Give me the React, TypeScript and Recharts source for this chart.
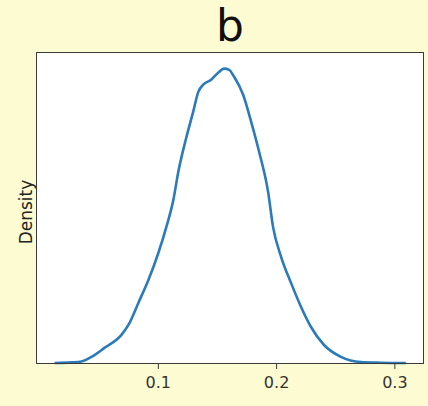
// 核密度曲线 "b"
import { LineChart, Line, XAxis, YAxis, CartesianGrid } from "recharts";

const xs = [
  0.0122, 0.0266, 0.035, 0.0435, 0.0544, 0.0688, 0.0747, 0.0831, 0.0916, 0.1,
  0.1068, 0.1127, 0.1169, 0.1236, 0.1295, 0.1338, 0.138, 0.1447, 0.1506, 0.1557,
  0.1599, 0.1641, 0.1717, 0.1785, 0.1852, 0.1928, 0.197, 0.2038, 0.2122, 0.2207,
  0.2291, 0.2401, 0.2544, 0.2713, 0.2882, 0.3093,
];
const density = [
  0.0, 0.02, 0.05, 0.21, 0.52, 0.97, 1.31, 2.07, 2.86, 3.79,
  4.69, 5.62, 6.59, 7.76, 8.66, 9.34, 9.59, 9.76, 10.0, 10.14,
  10.1, 9.86, 9.24, 8.31, 7.28, 5.9, 4.69, 3.66, 2.76, 1.93,
  1.24, 0.62, 0.21, 0.03, 0.01, 0.0,
];
const xTicks = [0.1, 0.2, 0.3];
const title = "b";
const yLabel = "Density";

const data = xs.map((x, i) => ({ x, y: density[i] }));

const frame = "#3a3a3a";

export default function App() {
  return (
    <div style={{ position: "absolute", left: 0, top: 0, width: 428, height: 406, background: "#fdfbd2", fontFamily: "'DejaVu Sans', sans-serif" }}>
      <div style={{ position: "absolute", left: 37, width: 386, top: 0, textAlign: "center", fontSize: 44, lineHeight: "52px", color: "#111" }}>
        {title}
      </div>
      <LineChart width={428} height={406} data={data} margin={{ top: 53, right: 5, bottom: 0, left: 0 }}>
        <CartesianGrid horizontal={false} vertical={false} fill="#ffffff" />
        <XAxis
          dataKey="x"
          type="number"
          domain={[-0.0026, 0.3238]}
          ticks={xTicks}
          allowDataOverflow
          height={43}
          tickSize={6}
          tickMargin={8}
          axisLine={false}
          stroke={frame}
          tick={{ fill: "#333", fontSize: 16 }}
        />
        <YAxis type="number" domain={[0, 10.68]} ticks={[]} width={37} axisLine={false} />
        <Line type="monotone" dataKey="y" stroke="#2b7bba" strokeWidth={2.6} dot={false} isAnimationActive={false} />
      </LineChart>
      <div style={{ position: "absolute", left: 36, top: 52, width: 388, height: 312, boxSizing: "border-box", border: `1.5px solid ${frame}`, pointerEvents: "none" }} />
      <div style={{ position: "absolute", left: 26, top: 212, transform: "translate(-50%, -50%) rotate(-90deg)", whiteSpace: "nowrap", fontSize: 17, color: "#222" }}>
        {yLabel}
      </div>
    </div>
  );
}
